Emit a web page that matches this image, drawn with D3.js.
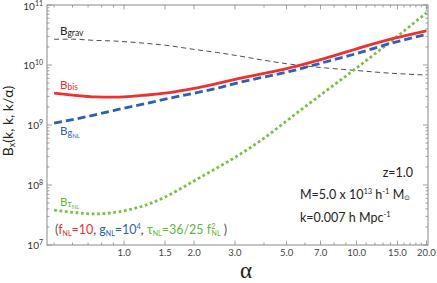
<!DOCTYPE html>
<html lang='en'>
<head>
    <meta charset='utf-8'>
    <title>Bispectrum vs alpha</title>
    <script src="https://d3js.org/d3.v7.min.js"></script>
    <style>
        body { margin: 0; background: white; }
        text { font-family: Lato, "Open Sans", sans-serif; }
    </style>
</head>
<body>
    <div id='chart'></div>
    <script>
        // values
        const alpha  = [0.5, 0.6, 0.75, 0.9, 1.0, 1.25, 1.5, 2.0, 2.5, 3.0, 4.0, 5.0, 7.0, 10, 14, 20];
        const bGrav  = [2.69e10, 2.69e10, 2.57e10, 2.51e10, 2.45e10, 2.29e10, 2.14e10, 1.82e10, 1.62e10, 1.45e10, 1.20e10, 1.05e10, 9.1e9, 8.1e9, 7.3e9, 6.8e9];
        const bBis   = [3.39e9, 3.16e9, 2.95e9, 2.92e9, 2.95e9, 3.16e9, 3.39e9, 4.07e9, 4.9e9, 5.75e9, 7.24e9, 8.71e9, 1.23e10, 1.86e10, 2.69e10, 3.72e10];
        const bGNL   = [1.07e9, 1.23e9, 1.48e9, 1.74e9, 1.91e9, 2.29e9, 2.69e9, 3.39e9, 4.07e9, 4.9e9, 6.31e9, 7.59e9, 1.07e10, 1.55e10, 2.29e10, 3.24e10];
        const bTauNL = [3.80e7, 3.51e7, 3.29e7, 3.47e7, 3.72e7, 4.68e7, 6.31e7, 1.17e8, 1.91e8, 2.88e8, 6.03e8, 1.17e9, 3.16e9, 8.91e9, 2.45e10, 7.41e10];

        const xTicks = [1, 1.5, 2, 3, 5, 7, 10, 15, 20];
        const xTickLabels = ["1.0", "1.5", "2.0", "3.0", "5.0", "7.0", "10.0", "15.0", "20.0"];
        const xMinor = [0.5, 0.6, 0.7, 0.8, 0.9, 4, 6, 8, 9, 11, 12, 13, 14, 16, 17, 18, 19];
        const yDecades = [1e7, 1e8, 1e9, 1e10, 1e11];
        const yExponents = ["7", "8", "9", "10", "11"];

        const width = 437, height = 283;
        const plot = {left: 47, right: 428, top: 5, bottom: 245};

        const svg = d3.select("#chart").append("svg")
            .attr("width", width).attr("height", height);

        const x = d3.scaleLog().domain([0.466, 20.3]).range([plot.left, plot.right]);
        const y = d3.scaleLog().domain([1e7, 1e11]).range([plot.bottom, plot.top]);

        const axisColor = "#8a8a8a";

        // frame
        svg.append("rect")
            .attr("x", plot.left).attr("y", plot.top)
            .attr("width", plot.right - plot.left).attr("height", plot.bottom - plot.top)
            .attr("fill", "none").attr("stroke", axisColor).attr("stroke-width", 1);

        // x ticks (inside, bottom and top)
        let tickG = svg.append("g").attr("stroke", axisColor).attr("stroke-width", 0.8);
        let addXTicks = (vals, len) => {
            vals.forEach(v => {
                let px = x(v);
                tickG.append("line").attr("x1", px).attr("x2", px)
                    .attr("y1", plot.bottom).attr("y2", plot.bottom - len);
                tickG.append("line").attr("x1", px).attr("x2", px)
                    .attr("y1", plot.top).attr("y2", plot.top + len);
            });
        };
        addXTicks(xTicks, 4.5);
        addXTicks(xMinor, 2.5);

        // y ticks
        let yMinor = [];
        yDecades.slice(0, -1).forEach(d => { for (let m = 2; m <= 9; m++) yMinor.push(d * m); });
        let addYTicks = (vals, len) => {
            vals.forEach(v => {
                let py = y(v);
                tickG.append("line").attr("x1", plot.left).attr("x2", plot.left + len)
                    .attr("y1", py).attr("y2", py);
                tickG.append("line").attr("x1", plot.right).attr("x2", plot.right - len)
                    .attr("y1", py).attr("y2", py);
            });
        };
        addYTicks(yDecades, 5);
        addYTicks(yMinor, 2.5);

        // x tick labels
        svg.append("g").selectAll("text")
            .data(xTicks)
            .enter().append("text")
                .attr("x", d => x(d))
                .attr("y", plot.bottom + 10.5)
                .attr("text-anchor", "middle")
                .attr("fill", "#444")
                .style("font-size", "9.5px")
                .text((d, i) => xTickLabels[i]);

        // y tick labels 10^n
        yDecades.forEach((d, i) => {
            let t = svg.append("text")
                .attr("x", plot.left - 4)
                .attr("y", Math.max(y(d) + 3.5, 10))
                .attr("text-anchor", "end")
                .attr("fill", "#333")
                .style("font-size", "10px");
            t.append("tspan").text("10");
            t.append("tspan").attr("dy", -4).style("font-size", "7px").text(yExponents[i]);
        });

        // rich text helper: parts = {t, color, size, shift, dx}
        let richText = (px, py, parts, anchor) => {
            let t = svg.append("text").attr("x", px).attr("y", py)
                .attr("text-anchor", anchor || "start");
            let prev = 0;
            parts.forEach(p => {
                let shift = p.shift || 0;
                let s = t.append("tspan")
                    .attr("dy", shift - prev)
                    .attr("fill", p.color || "#222")
                    .style("font-size", (p.size || 12) + "px")
                    .text(p.t);
                if (p.dx) s.attr("dx", p.dx);
                prev = shift;
            });
            return t;
        };

        // curves
        let line = d3.line()
            .x(d => x(d[0]))
            .y(d => y(d[1]))
            .curve(d3.curveMonotoneX);

        let series = [
            {vals: bGrav, color: "#3a3a3a", width: 0.9, dash: "5,3.5"},
            {vals: bTauNL, color: "#79c145", width: 2.8, dash: "2.8,2.6"},
            {vals: bBis, color: "#ee3030", width: 2.8, dash: null},
            {vals: bGNL, color: "#2d5fb5", width: 2.8, dash: "8,4"}
        ];
        series.forEach(s => {
            svg.append("path")
                .datum(alpha.map((a, i) => [a, s.vals[i]]))
                .attr("d", line)
                .attr("fill", "none")
                .attr("stroke", s.color)
                .attr("stroke-width", s.width)
                .attr("stroke-dasharray", s.dash);
        });

        // curve labels
        richText(60, 35, [{t: "B", size: 11.5, color: "#222"}, {t: "grav", size: 8.5, color: "#222", shift: 1}]);
        richText(60, 89, [{t: "B", size: 11.5, color: "#ee3030"}, {t: "bis", size: 8.5, color: "#ee3030", shift: 1}]);
        richText(60, 135, [{t: "B", size: 11.5, color: "#2d5fb5"}, {t: "g", size: 9, color: "#2d5fb5", shift: 1},
                           {t: "NL", size: 6, color: "#2d5fb5", shift: 3}]);
        richText(60, 206, [{t: "B", size: 11.5, color: "#5fb83a"}, {t: "τ", size: 9, color: "#5fb83a", shift: 1},
                           {t: "NL", size: 6, color: "#5fb83a", shift: 2.5}]);

        // parameters line
        const red = "#ee3030", blue = "#2d5fb5", green = "#5fb83a";
        richText(55, 234, [
            {t: "(", size: 12.5, color: "#555"},
            {t: "f", size: 12.5, color: red},
            {t: "NL", size: 7, color: red, shift: 2},
            {t: "=10", size: 12.5, color: red},
            {t: ", ", size: 12.5, color: "#333"},
            {t: "g", size: 12.5, color: blue},
            {t: "NL", size: 7, color: blue, shift: 2},
            {t: "=10", size: 12.5, color: blue},
            {t: "4", size: 7.5, color: blue, shift: -5},
            {t: ", ", size: 12.5, color: "#333"},
            {t: "τ", size: 12.5, color: green},
            {t: "NL", size: 7, color: green, shift: 2},
            {t: "=36/25 f", size: 12.5, color: green},
            {t: "2", size: 7.5, color: green, shift: -5},
            {t: "NL", size: 7, color: green, shift: 2, dx: -4},
            {t: "  )", size: 12.5, color: "#555"}
        ]);

        // annotations
        richText(413, 177, [{t: "z=1.0", size: 12.5}], "end");
        richText(300, 199, [
            {t: "M=5.0 x 10", size: 12.5},
            {t: "13", size: 7.5, shift: -5},
            {t: " h", size: 12.5},
            {t: "-1", size: 7.5, shift: -5},
            {t: " M", size: 12.5},
            {t: "⊙", size: 7, shift: 1}
        ]);
        richText(300, 222, [
            {t: "k=0.007 h Mpc", size: 12.5},
            {t: "-1", size: 7.5, shift: -5}
        ]);

        // axis titles
        let yTitle = svg.append("text")
            .attr("transform", "translate(13,121) rotate(-90)")
            .attr("text-anchor", "middle")
            .attr("fill", "#222")
            .style("font-size", "14px");
        yTitle.append("tspan").text("B");
        yTitle.append("tspan").attr("dy", 2).style("font-size", "9px").text("x");
        yTitle.append("tspan").attr("dy", -2).text("(k, k, k/α)");

        svg.append("text")
            .attr("x", 246).attr("y", 278)
            .attr("text-anchor", "middle")
            .attr("fill", "#222")
            .style("font-family", "'Liberation Serif', serif")
            .style("font-size", "23px")
            .text("α");
    </script>
</body>
</html>
